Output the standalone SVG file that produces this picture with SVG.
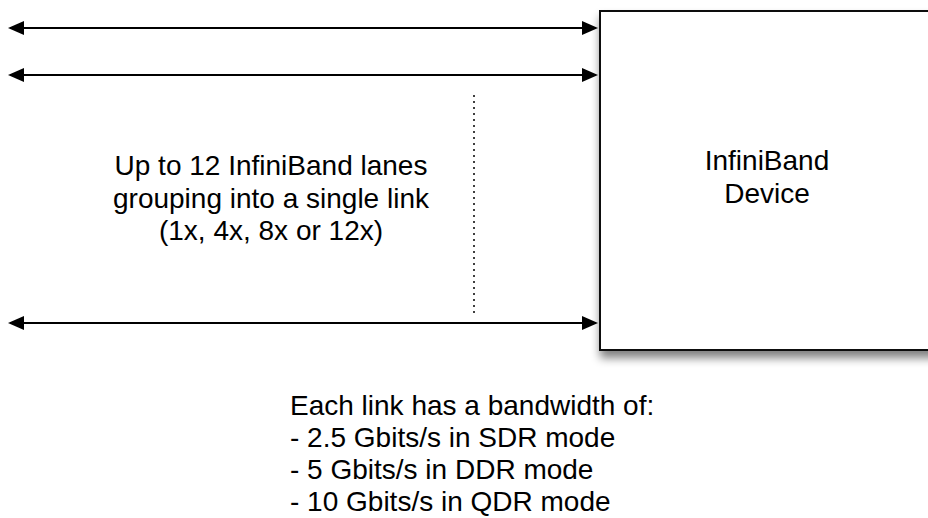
<svg xmlns="http://www.w3.org/2000/svg" width="928" height="518" viewBox="0 0 928 518">
<style>
text{font-family:"Liberation Sans",Arial,Helvetica,sans-serif;font-size:28px;fill:#000}
.lane{stroke:#000;stroke-width:2;fill:none;marker-start:url(#ah);marker-end:url(#ah)}
.dot{stroke:#000;stroke-width:1.5;stroke-dasharray:2,4;fill:none}
</style>
<defs>
<marker id="ah" viewBox="0 0 16 14" refX="14" refY="7" markerWidth="16" markerHeight="14" orient="auto-start-reverse" markerUnits="userSpaceOnUse">
<path d="M0,0 L16,7 L0,14 Z" fill="#000"/>
</marker>
<filter id="sh" x="-10%" y="-10%" width="130%" height="130%">
<feGaussianBlur in="SourceAlpha" stdDeviation="5"/>
<feOffset dx="1" dy="7" result="b"/>
<feComponentTransfer><feFuncA type="linear" slope="0.5"/></feComponentTransfer>
<feMerge><feMergeNode/><feMergeNode in="SourceGraphic"/></feMerge>
</filter>
</defs>
<rect width="928" height="518" fill="#fff"/>
<g id="device">
<rect x="600" y="11" width="340" height="339" fill="#fff" stroke="#111" stroke-width="2" filter="url(#sh)"/>
<text x="767" y="170" text-anchor="middle">InfiniBand</text>
<text x="767" y="203" text-anchor="middle">Device</text>
</g>
<g id="connectors">
<line class="lane" x1="10" y1="28" x2="596" y2="28"/>
<line class="lane" x1="10" y1="75" x2="596" y2="75"/>
<line class="lane" x1="10" y1="323" x2="596" y2="323"/>
<line class="dot" x1="474" y1="95" x2="474" y2="313"/>
</g>
<g id="lanes-label">
<text x="271" y="175" text-anchor="middle">Up to 12 InfiniBand lanes</text>
<text x="271" y="207.5" text-anchor="middle">grouping into a single link</text>
<text x="271" y="240" text-anchor="middle">(1x, 4x, 8x or 12x)</text>
</g>
<g id="bandwidth-label">
<text x="290" y="415">Each link has a bandwidth of:</text>
<text x="290" y="447">- 2.5 Gbits/s in SDR mode</text>
<text x="290" y="479">- 5 Gbits/s in DDR mode</text>
<text x="290" y="511">- 10 Gbits/s in QDR mode</text>
</g>
</svg>
